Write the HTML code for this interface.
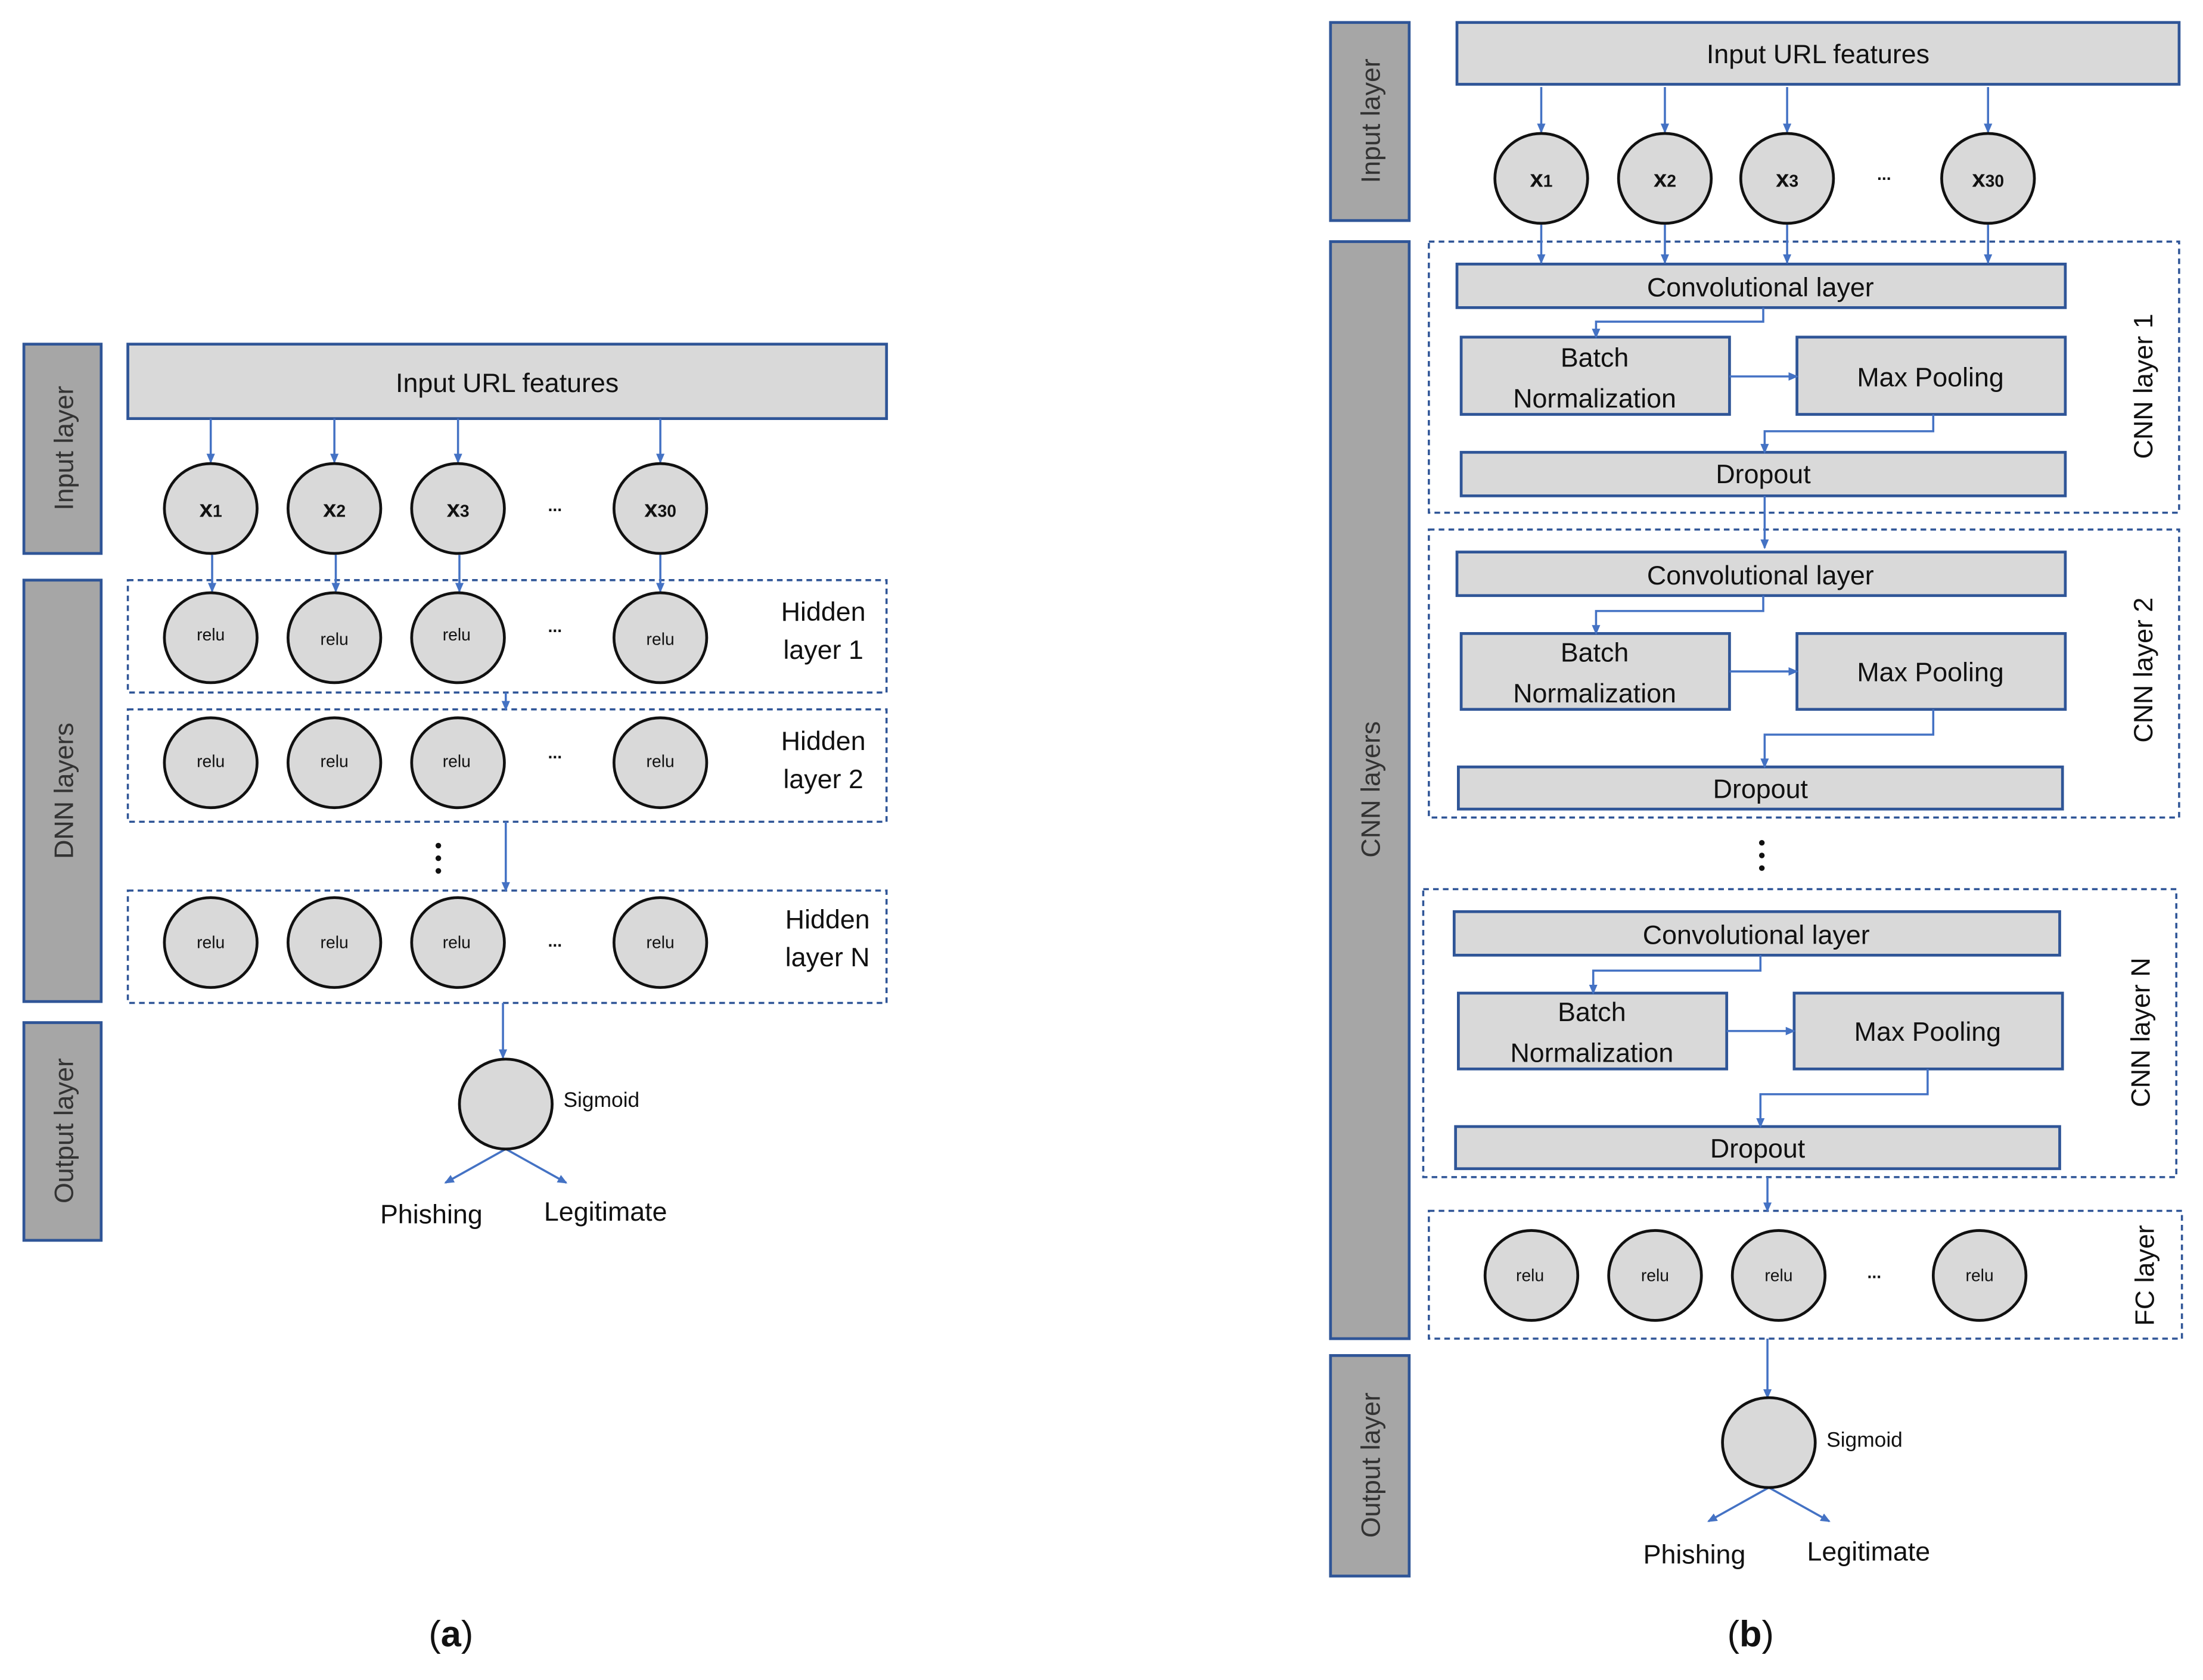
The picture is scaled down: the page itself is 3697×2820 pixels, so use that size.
<!DOCTYPE html>
<html><head><meta charset="utf-8"><style>html,body{margin:0;padding:0;background:#fff}svg{display:block}text{font-family:"Liberation Sans",sans-serif}</style></head>
<body>
<svg width="3697" height="2820" viewBox="0 0 1568 1196" preserveAspectRatio="none" xmlns="http://www.w3.org/2000/svg">
<defs>
<marker id="a" markerWidth="8" markerHeight="8" refX="6" refY="4" orient="auto" markerUnits="userSpaceOnUse"><path d="M0,1 L7,4 L0,7 z" fill="#4472c4"/></marker>
</defs>
<g stroke="#2f5597" stroke-width="2" fill="#a6a6a6">
<rect x="17" y="245" width="55" height="149"/><rect x="17" y="413" width="55" height="300"/><rect x="17" y="728" width="55" height="155"/>
<rect x="947" y="16" width="56" height="141"/><rect x="947" y="172" width="56" height="781"/><rect x="947" y="965" width="56" height="157"/>
</g>
<g fill="#333" font-size="19" text-anchor="middle">
<text transform="translate(52,319) rotate(-90)">Input layer</text>
<text transform="translate(52,563) rotate(-90)">DNN layers</text>
<text transform="translate(52,805) rotate(-90)">Output layer</text>
<text transform="translate(982,86) rotate(-90)">Input layer</text>
<text transform="translate(982,562) rotate(-90)">CNN layers</text>
<text transform="translate(982,1043) rotate(-90)">Output layer</text>
</g>
<g stroke="#2f5597" stroke-width="2" fill="#d9d9d9">
<rect x="91" y="245" width="540" height="53"/>
<rect x="1037" y="16" width="514" height="44"/>
<rect x="1037" y="188" width="433" height="31"/><rect x="1040" y="240" width="191" height="55"/><rect x="1279" y="240" width="191" height="55"/><rect x="1040" y="322" width="430" height="31"/>
<rect x="1037" y="393" width="433" height="31"/><rect x="1040" y="451" width="191" height="54"/><rect x="1279" y="451" width="191" height="54"/><rect x="1038" y="546" width="430" height="30"/>
<rect x="1035" y="649" width="431" height="31"/><rect x="1038" y="707" width="191" height="54"/><rect x="1277" y="707" width="191" height="54"/><rect x="1036" y="802" width="430" height="30"/>
</g>
<g stroke="#2f5597" stroke-width="1.5" fill="none" stroke-dasharray="4,3">
<rect x="91" y="413" width="540" height="80"/><rect x="91" y="505" width="540" height="80"/><rect x="91" y="634" width="540" height="80"/>
<rect x="1017" y="172" width="534" height="193"/><rect x="1017" y="377" width="534" height="205"/><rect x="1013" y="633" width="536" height="205"/><rect x="1017" y="862" width="536" height="91"/>
</g>
<g stroke="#4472c4" stroke-width="1.5" fill="none" marker-end="url(#a)">
<path d="M150,298V329"/><path d="M238,298V329"/><path d="M326,298V329"/><path d="M470,298V329"/>
<path d="M151,395V421"/><path d="M239,395V421"/><path d="M327,395V421"/><path d="M470,395V421"/>
<path d="M360,493V505"/><path d="M360,585V634"/><path d="M358,714V753"/>
<path d="M360,818L317,842"/><path d="M360,818L403,842"/>
<path d="M1097,62V94"/><path d="M1185,62V94"/><path d="M1272,62V94"/><path d="M1415,62V94"/>
<path d="M1097,160V187"/><path d="M1185,160V187"/><path d="M1272,160V187"/><path d="M1415,160V187"/>
<path d="M1255,219V229H1136V240"/><path d="M1231,268H1279"/><path d="M1376,295V307H1256V322"/>
<path d="M1256,353V390"/>
<path d="M1255,424V435H1136V451"/><path d="M1231,478H1279"/><path d="M1376,505V523H1256V546"/>
<path d="M1253,680V691H1134V707"/><path d="M1229,734H1277"/><path d="M1372,761V779H1253V802"/>
<path d="M1258,838V862"/><path d="M1258,953V995"/>
<path d="M1259,1059L1216,1083"/><path d="M1259,1059L1302,1083"/>
</g>
<g stroke="#111" stroke-width="2" fill="#d9d9d9">
<ellipse cx="150" cy="362" rx="33" ry="32"/><ellipse cx="238" cy="362" rx="33" ry="32"/><ellipse cx="326" cy="362" rx="33" ry="32"/><ellipse cx="470" cy="362" rx="33" ry="32"/>
<ellipse cx="150" cy="454" rx="33" ry="32"/><ellipse cx="238" cy="454" rx="33" ry="32"/><ellipse cx="326" cy="454" rx="33" ry="32"/><ellipse cx="470" cy="454" rx="33" ry="32"/>
<ellipse cx="150" cy="543" rx="33" ry="32"/><ellipse cx="238" cy="543" rx="33" ry="32"/><ellipse cx="326" cy="543" rx="33" ry="32"/><ellipse cx="470" cy="543" rx="33" ry="32"/>
<ellipse cx="150" cy="671" rx="33" ry="32"/><ellipse cx="238" cy="671" rx="33" ry="32"/><ellipse cx="326" cy="671" rx="33" ry="32"/><ellipse cx="470" cy="671" rx="33" ry="32"/>
<ellipse cx="360" cy="786" rx="33" ry="32"/>
<ellipse cx="1097" cy="127" rx="33" ry="32"/><ellipse cx="1185" cy="127" rx="33" ry="32"/><ellipse cx="1272" cy="127" rx="33" ry="32"/><ellipse cx="1415" cy="127" rx="33" ry="32"/>
<ellipse cx="1090" cy="908" rx="33" ry="32"/><ellipse cx="1178" cy="908" rx="33" ry="32"/><ellipse cx="1266" cy="908" rx="33" ry="32"/><ellipse cx="1409" cy="908" rx="33" ry="32"/>
<ellipse cx="1259" cy="1027" rx="33" ry="32"/>
</g>
<g fill="#111" text-anchor="middle" font-size="19">
<text x="361" y="279">Input URL features</text>
<text x="1294" y="45">Input URL features</text>
<text x="1253" y="211">Convolutional layer</text><text x="1135" y="261">Batch</text><text x="1135" y="290">Normalization</text><text x="1374" y="275">Max Pooling</text><text x="1255" y="344">Dropout</text>
<text x="1253" y="416">Convolutional layer</text><text x="1135" y="471">Batch</text><text x="1135" y="500">Normalization</text><text x="1374" y="485">Max Pooling</text><text x="1253" y="568">Dropout</text>
<text x="1250" y="672">Convolutional layer</text><text x="1133" y="727">Batch</text><text x="1133" y="756">Normalization</text><text x="1372" y="741">Max Pooling</text><text x="1251" y="824">Dropout</text>
<text x="586" y="442">Hidden</text><text x="586" y="469">layer 1</text>
<text x="586" y="534">Hidden</text><text x="586" y="561">layer 2</text>
<text x="589" y="661">Hidden</text><text x="589" y="688">layer N</text>
<text x="307" y="871">Phishing</text><text x="431" y="869">Legitimate</text>
<text x="1206" y="1113">Phishing</text><text x="1330" y="1111">Legitimate</text>
<text transform="translate(1532,275) rotate(-90)">CNN layer 1</text>
<text transform="translate(1532,477) rotate(-90)">CNN layer 2</text>
<text transform="translate(1530,735) rotate(-90)">CNN layer N</text>
<text transform="translate(1533,908) rotate(-90)">FC layer</text>
<text x="321" y="1172" font-family="Liberation Serif" font-size="26">(<tspan font-weight="bold">a</tspan>)</text>
<text x="1246" y="1172" font-family="Liberation Serif" font-size="26">(<tspan font-weight="bold">b</tspan>)</text>
</g>
<g fill="#111" text-anchor="middle" font-size="17" font-weight="bold">
<text x="150" y="368">x<tspan font-size="12">1</tspan></text><text x="238" y="368">x<tspan font-size="12">2</tspan></text><text x="326" y="368">x<tspan font-size="12">3</tspan></text><text x="470" y="368">x<tspan font-size="12">30</tspan></text>
<text x="1097" y="133">x<tspan font-size="12">1</tspan></text><text x="1185" y="133">x<tspan font-size="12">2</tspan></text><text x="1272" y="133">x<tspan font-size="12">3</tspan></text><text x="1415" y="133">x<tspan font-size="12">30</tspan></text>
</g>
<g fill="#111" text-anchor="middle" font-size="12">
<text x="150" y="456">relu</text><text x="238" y="459">relu</text><text x="325" y="456">relu</text><text x="470" y="459">relu</text>
<text x="150" y="546">relu</text><text x="238" y="546">relu</text><text x="325" y="546">relu</text><text x="470" y="546">relu</text>
<text x="150" y="675">relu</text><text x="238" y="675">relu</text><text x="325" y="675">relu</text><text x="470" y="675">relu</text>
<text x="1089" y="912">relu</text><text x="1178" y="912">relu</text><text x="1266" y="912">relu</text><text x="1409" y="912">relu</text>
<text x="395" y="364" font-weight="bold">...</text><text x="395" y="450" font-weight="bold">...</text><text x="395" y="540" font-weight="bold">...</text><text x="395" y="674" font-weight="bold">...</text>
<text x="1341" y="128" font-weight="bold">...</text><text x="1334" y="910" font-weight="bold">...</text>
</g>
<g fill="#111" font-size="15"><text x="401" y="788">Sigmoid</text><text x="1300" y="1030">Sigmoid</text></g>
<g fill="#111"><circle cx="312" cy="602" r="2"/><circle cx="312" cy="611" r="2"/><circle cx="312" cy="620" r="2"/>
<circle cx="1254" cy="600" r="2"/><circle cx="1254" cy="609" r="2"/><circle cx="1254" cy="618" r="2"/></g>
</svg>
</body></html>
